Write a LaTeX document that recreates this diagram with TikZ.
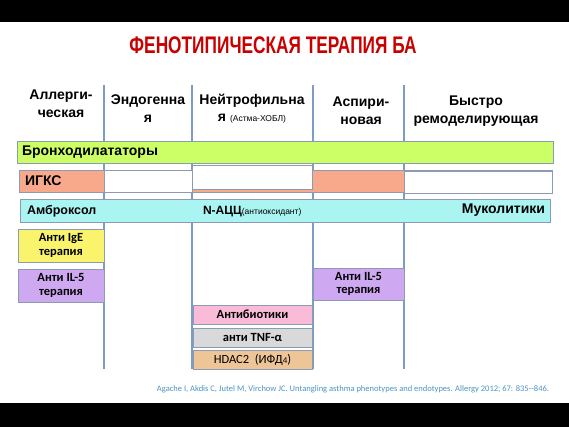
\documentclass[tikz,border=0pt]{standalone}
\usepackage{fontspec}
\setmainfont{Liberation Sans}
\newfontfamily\calib{Carlito}

\definecolor{lineblue}{HTML}{7E9BC6}
\definecolor{boxgray}{HTML}{8C9AB4}
\definecolor{bronchgreen}{HTML}{CCFF66}
\definecolor{igkssalmon}{HTML}{F9A98B}
\definecolor{mucocyan}{HTML}{AAF4F2}
\definecolor{igeyellow}{HTML}{F9F46C}
\definecolor{ilviolet}{HTML}{CFA8F2}
\definecolor{antibpink}{HTML}{F9BBD7}
\definecolor{tnfgray}{HTML}{D9D9D9}
\definecolor{hdactan}{HTML}{EDC597}
\definecolor{titlered}{HTML}{C80000}
\definecolor{refblue}{HTML}{4A94BF}

\begin{document}
\begin{tikzpicture}[x=1pt, y=-1pt,
    every node/.style={inner sep=0pt, outer sep=0pt},
    colline/.style={draw=lineblue, line width=1.2pt},
    bar/.style={draw=boxgray, line width=0.8pt},
    whitebox/.style={draw=boxgray, line width=0.6pt, fill=white},
    cell/.style={draw=boxgray, line width=0.8pt, align=center,
        font=\calib\bfseries\fontsize{12.5}{13.5}\selectfont},
    head/.style={align=center, font=\bfseries\fontsize{14}{17.5}\selectfont},
    bartext/.style={anchor=west, font=\bfseries\fontsize{14}{14}\selectfont}]
    \useasboundingbox (0,0) rectangle (569,427);
    \fill[black] (0,0) rectangle (569,22);
    \fill[black] (0,403) rectangle (569,427);

    \node[text=titlered, font=\bfseries\fontsize{24}{24}\selectfont] (title) at (273,45)
        {\scalebox{0.72}[1]{ФЕНОТИПИЧЕСКАЯ ТЕРАПИЯ БА}};

    \node[head] (hallerg) at (61,104) {Аллерги-\\ческая};
    \node[head] (hendo) at (148,108.5) {Эндогенна\\я};
    \node[head] (hneutro) at (252,108.5) {Нейтрофильна\\я {\mdseries\fontsize{8.5}{8.5}\selectfont (Астма-ХОБЛ)}};
    \node[head] (haspir) at (361,111) {Аспири-\\новая};
    \node[head] (hfast) at (476,111) {Быстро\\ремоделирующая};

    \foreach \x in {104,192,313,404}
        \draw[colline] (\x,85) -- (\x,369);

    \node[bar, fill=bronchgreen, minimum width=536, minimum height=22] (bronch) at (285,152) {};
    \node[bartext] (bronchtxt) at (22,152) {Бронходилататоры};

    \node[bar, fill=igkssalmon, minimum width=533, minimum height=22] (igks) at (285.5,181) {};
    \node[bartext] (igkstxt) at (25,181) {ИГКС};
    \node[whitebox, minimum width=88, minimum height=22] (igksgap1) at (148,181) {};
    \node[whitebox, minimum width=120, minimum height=24] (igksgap2) at (252,177) {};
    \node[whitebox, minimum width=148, minimum height=22] (igksgap3) at (478,182) {};

    \node[bar, fill=mucocyan, minimum width=530, minimum height=23] (muco) at (285,210.5) {};
    \node[bartext, font=\bfseries\fontsize{12.5}{12.5}\selectfont] (ambrox) at (27,211) {Амброксол};
    \node[bartext, anchor=base west, font=\bfseries\fontsize{12}{12}\selectfont] (nacc) at (203,215)
        {N-АЦЦ{\mdseries\fontsize{8.5}{8.5}\selectfont (антиоксидант)}};
    \node[bartext, anchor=east, font=\bfseries\fontsize{14}{14}\selectfont] (mucotxt) at (545,210) {Муколитики};

    \node[cell, fill=igeyellow, minimum width=86, minimum height=33] (antiige) at (61,245.5) {Анти IgE\\терапия};
    \node[cell, fill=ilviolet, minimum width=86, minimum height=33] (antiil) at (61,285.5) {Анти IL-5\\терапия};
    \node[cell, fill=ilviolet, minimum width=91, minimum height=32] (antiilr) at (358.5,284) {Анти IL-5\\терапия};
    \node[cell, fill=antibpink, minimum width=119, minimum height=19] (antib) at (252.5,314.5) {Антибиотики};
    \node[cell, fill=tnfgray, minimum width=119, minimum height=19] (antitnf) at (252.5,337.5) {анти TNF-α};
    \node[cell, fill=hdactan, minimum width=119, minimum height=19] (hdac) at (252.5,359.5)
        {\mdseries HDAC2~~(ИФД{\fontsize{9}{9}\selectfont 4})};

    \node[text=refblue, font=\calib\fontsize{8.5}{9}\selectfont] (ref) at (353,389)
        {Agache I, Akdis C, Jutel M, Virchow JC. Untangling asthma phenotypes and endotypes. Allergy 2012; 67: 835--846.};
\end{tikzpicture}
\end{document}
